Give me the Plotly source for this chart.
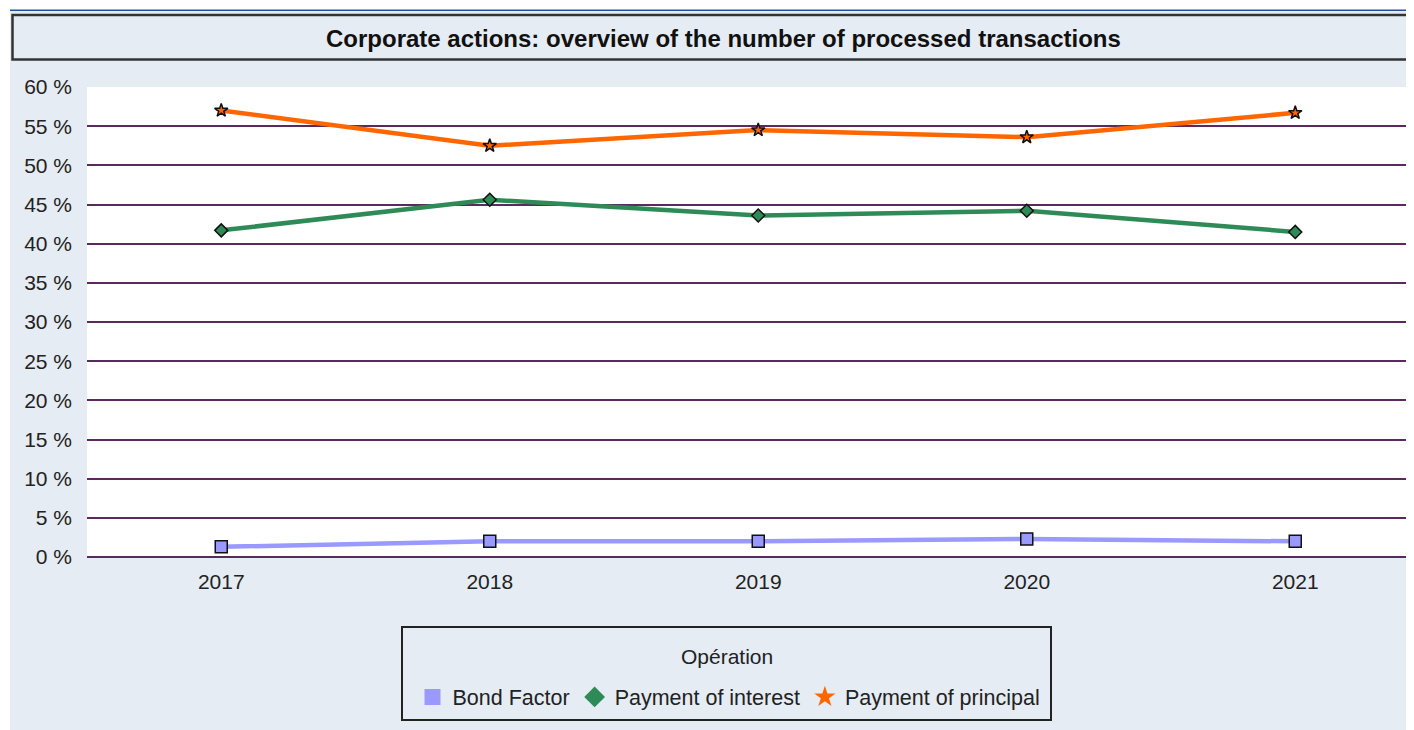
import plotly.graph_objects as go

years = ["2017", "2018", "2019", "2020", "2021"]
bond_factor = [1.3, 2.0, 2.0, 2.3, 2.0]
payment_interest = [41.7, 45.6, 43.6, 44.2, 41.5]
payment_principal = [57.0, 52.5, 54.5, 53.6, 56.7]
y_ticks = [0, 5, 10, 15, 20, 25, 30, 35, 40, 45, 50, 55, 60]
y_tick_text = [f"{v} %" for v in y_ticks]

# page offset of the figure (browser body margin)
OFF = 8
W, H = 1406, 722
L, R, T, B = 79, 0, 79, 173
PW, PH = W - L - R, H - T - B

def px_x(p):  # page pixel -> paper
    return (p - OFF - L) / PW

def px_y(p):
    return (H - B - (p - OFF)) / PH

panel = "#e6ecf3"
grid = "#5a2a5e"
blue = "#9999ff"
green = "#2e8b57"
orange = "#ff6600"
font_family = "Liberation Sans, Arial, sans-serif"

fig = go.Figure()

series = [
    ("Bond Factor", bond_factor, blue, "square", 12),
    ("Payment of interest", payment_interest, green, "diamond", 10),
    ("Payment of principal", payment_principal, orange, "star", 10),
]
for name, vals, col, sym, sz in series:
    fig.add_trace(go.Scatter(
        x=years, y=vals, mode="lines+markers", name=name, showlegend=False,
        line=dict(color=col, width=4.5),
        marker=dict(symbol=sym, size=sz, color=col, line=dict(color="#111", width=1.5)),
    ))
for name, vals, col, sym, sz in series:
    fig.add_trace(go.Scatter(
        x=[None], y=[None], mode="markers", name=name, showlegend=True,
        marker=dict(symbol=sym, size=16, color=col, line=dict(width=0)),
    ))

shapes = [
    dict(type="rect", xref="paper", yref="paper", x0=px_x(0), x1=px_x(1500), y0=px_y(0), y1=px_y(10.5),
         fillcolor="white", line=dict(width=0), layer="below"),
    dict(type="rect", xref="paper", yref="paper", x0=px_x(0), x1=px_x(10), y0=px_y(0), y1=px_y(800),
         fillcolor="white", line=dict(width=0), layer="below"),
    dict(type="line", xref="paper", yref="paper", x0=px_x(10), x1=px_x(1500), y0=px_y(10.2), y1=px_y(10.2),
         line=dict(color="#2a4f9a", width=1.5)),
    # title box
    dict(type="rect", xref="paper", yref="paper", x0=px_x(12.5), x1=px_x(1500), y0=px_y(15), y1=px_y(59.5),
         fillcolor=panel, line=dict(color="#333", width=2.5)),
    # legend box
    dict(type="rect", xref="paper", yref="paper", x0=px_x(402), x1=px_x(1051), y0=px_y(627), y1=px_y(720),
         fillcolor=panel, line=dict(color="#222", width=2)),
]

fig.update_layout(
    width=W, height=H,
    margin=dict(l=L, r=R, t=T, b=B, autoexpand=False),
    paper_bgcolor=panel,
    plot_bgcolor="white",
    font=dict(family=font_family, color="#222", size=21),
    shapes=shapes,
    annotations=[
        dict(text="<b>Corporate actions: overview of the number of processed transactions</b>",
             xref="paper", yref="paper", x=px_x(723), y=px_y(38), xanchor="center", yanchor="middle",
             showarrow=False, font=dict(size=24, color="#111", family=font_family)),
        dict(text="Opération", xref="paper", yref="paper", x=px_x(727), y=px_y(656),
             xanchor="center", yanchor="middle", showarrow=False,
             font=dict(size=21, color="#222", family=font_family)),
    ],
    xaxis=dict(
        type="category", range=[-0.5, -0.5 + PW / 268.5], showgrid=False, zeroline=False,
        showline=False, ticks="", tickfont=dict(size=21, color="#222"), ticklabelstandoff=10,
    ),
    yaxis=dict(
        range=[0, 60], tickvals=y_ticks, ticktext=y_tick_text, showgrid=True,
        gridcolor=grid, gridwidth=2, zeroline=True, zerolinecolor=grid, zerolinewidth=2,
        showline=False, ticks="", tickfont=dict(size=21, color="#222"), ticklabelstandoff=14,
    ),
    legend=dict(
        orientation="h", xanchor="center", yanchor="middle", x=px_x(729), y=px_y(697),
        bgcolor="rgba(0,0,0,0)", borderwidth=0,
        font=dict(size=21.5, color="#222"), itemwidth=30, tracegroupgap=0,
    ),
)

fig.write_html("out.html")
